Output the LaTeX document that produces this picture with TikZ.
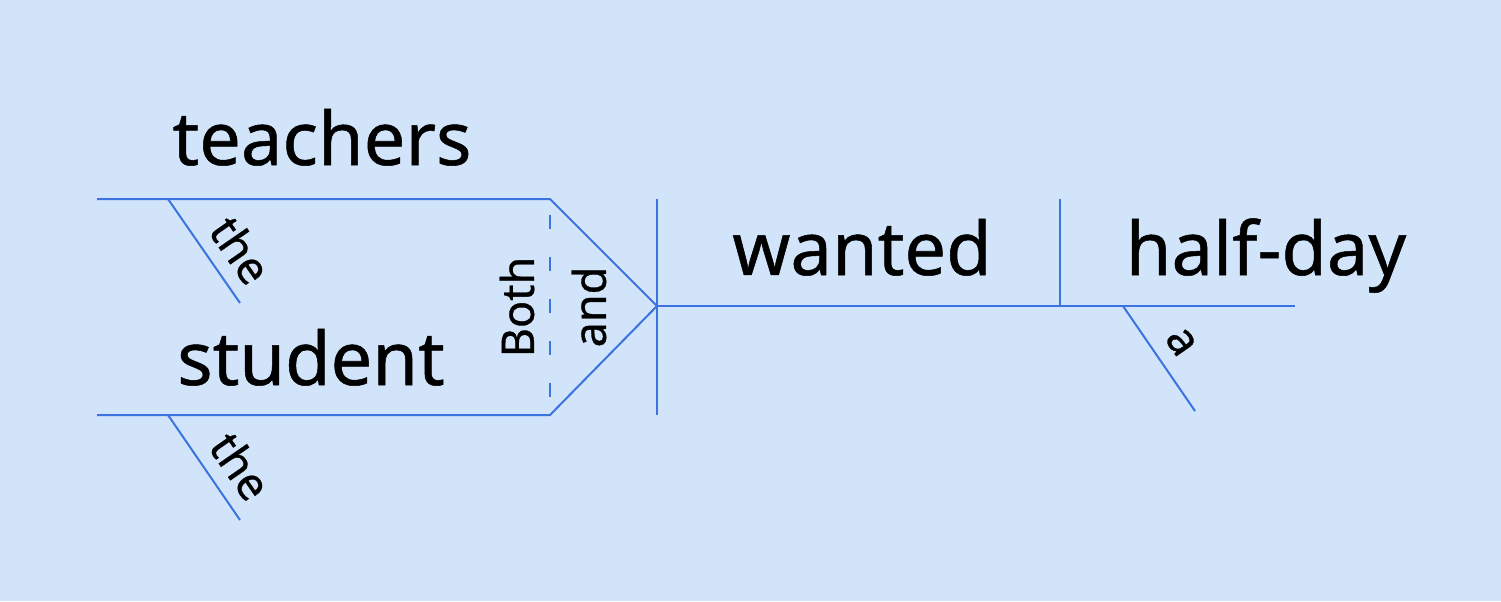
\documentclass[tikz,border=0pt]{standalone}
\usepackage{fontspec}
\setmainfont{Noto Sans}[FakeBold=0.7]
\definecolor{bg}{RGB}{209,228,250}
\definecolor{ln}{RGB}{59,115,224}
\begin{document}
\begin{tikzpicture}[x=0.5pt,y=-0.5pt,
  rule/.style={draw=ln,line width=1pt},
  big/.style={font=\fontsize{37}{40}\selectfont\bfseries,anchor=base,inner sep=0pt},
  small/.style={font=\fontsize{22.5}{25}\selectfont\bfseries,inner sep=0pt}]
\fill[bg] (0,0) rectangle (1501,601);
\useasboundingbox (0,0) rectangle (1501,601);
% coordinates
\coordinate (tL) at (97,199);
\coordinate (tR) at (550,199);
\coordinate (bL) at (97,415);
\coordinate (bR) at (550,415);
\coordinate (t1) at (168,199);
\coordinate (t2) at (240,303);
\coordinate (b1) at (168,415);
\coordinate (b2) at (240,520);
\coordinate (apex) at (657,306);
\coordinate (vT) at (657,199);
\coordinate (vB) at (657,415);
\coordinate (mE) at (1295,306);
\coordinate (d1) at (1060,199);
\coordinate (d2) at (1060,306);
\coordinate (a1) at (1123,306);
\coordinate (a2) at (1195,411);
% lines
\draw[rule] (tL) -- (tR) -- (apex) -- (bR) -- (bL);
\draw[rule,dash pattern=on 7pt off 14pt,dash phase=-8pt] (tR) -- (bR);
\draw[rule] (t1) -- (t2);
\draw[rule] (b1) -- (b2);
\draw[rule] (vT) -- (vB);
\draw[rule] (apex) -- (mE);
\draw[rule] (d1) -- (d2);
\draw[rule] (a1) -- (a2);
% texts
\node[big] (teachers) at (322,165) {teachers};
\node[big] (student) at (311,385) {student};
\node[big] (wanted) at (862,275) {wanted};
\node[big] (halfday) at (1266,275) {half-day};
\node[small,rotate=-55.3] (the1) at (241,250) {the};
\node[small,rotate=-55.3] (the2) at (241,466) {the};
\node[small,rotate=-55.3] (a) at (1181,342) {a};
\node[small,rotate=90] (both) at (517,307) {Both};
\node[small,rotate=90] (and) at (589,307) {and};
\end{tikzpicture}
\end{document}
